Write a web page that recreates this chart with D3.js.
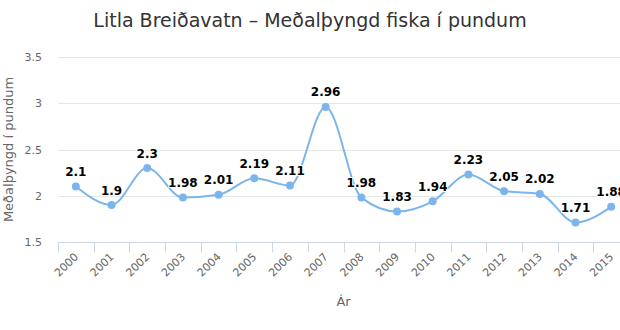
<!DOCTYPE html>
<html>
<head>
<meta charset="utf-8">
<script src="https://cdn.jsdelivr.net/npm/d3@7"></script>
<style>
  html, body { margin: 0; padding: 0; background: #fff; }
  svg { display: block; font-family: "DejaVu Sans", Verdana, sans-serif; }
</style>
</head>
<body>
<svg id="chart" width="620" height="330"></svg>
<script>
// Mean weight of fish per year, in pounds
const years = ["2000","2001","2002","2003","2004","2005","2006","2007","2008","2009","2010","2011","2012","2013","2014","2015"];
const weights = [2.1, 1.9, 2.3, 1.98, 2.01, 2.19, 2.11, 2.96, 1.98, 1.83, 1.94, 2.23, 2.05, 2.02, 1.71, 1.88];
const yTicks = [1.5, 2, 2.5, 3, 3.5];

const titleText = "Litla Breiðavatn – Meðalþyngd fiska í pundum";
const yTitle = "Meðalþyngd í pundum";
const xTitle = "Ár";

const svg = d3.select("#chart");
const plot = { left: 58, right: 629, top: 57, bottom: 242 };

const x = d3.scaleBand().domain(years).range([plot.left, plot.right]);
const y = d3.scaleLinear().domain([1.5, 3.5]).range([plot.bottom, plot.top]);

// Title
svg.append("text")
  .attr("x", 310).attr("y", 27)
  .attr("text-anchor", "middle")
  .attr("fill", "#333333")
  .style("font-size", "19px")
  .text(titleText);

// Horizontal gridlines
svg.append("g").selectAll("line")
  .data(yTicks.filter(d => d > 1.5))
  .join("line")
  .attr("x1", plot.left).attr("x2", plot.right)
  .attr("y1", d => Math.round(y(d)) + 0.5).attr("y2", d => Math.round(y(d)) + 0.5)
  .attr("stroke", "#e6e6e6");

// Y axis labels
const yAxis = d3.axisLeft(y).tickValues(yTicks).tickSize(0).tickPadding(16)
  .tickFormat(d3.format("~g"));
const gy = svg.append("g").attr("transform", `translate(${plot.left},0)`).call(yAxis);
gy.select(".domain").remove();
gy.selectAll("text").attr("fill", "#666666").style("font-size", "11px")
  .style("font-family", "DejaVu Sans, sans-serif");

// X axis with ticks at category boundaries
const gx = svg.append("g").attr("transform", `translate(0,${plot.bottom + 0.5})`);
gx.append("line")
  .attr("x1", plot.left).attr("x2", plot.right)
  .attr("stroke", "#ccd6eb");
gx.selectAll("line.tick")
  .data(years)
  .join("line")
  .attr("class", "tick")
  .attr("x1", d => Math.round(x(d)) + 0.5).attr("x2", d => Math.round(x(d)) + 0.5)
  .attr("y1", 0).attr("y2", 10)
  .attr("stroke", "#ccd6eb");
gx.selectAll("text")
  .data(years)
  .join("text")
  .attr("transform", d => `translate(${x(d) + x.bandwidth() / 2 + 3},${15}) rotate(-45)`)
  .attr("text-anchor", "end")
  .attr("fill", "#666666")
  .style("font-size", "11px")
  .text(d => d);

// Axis titles
svg.append("text")
  .attr("transform", `translate(13,${(plot.top + plot.bottom) / 2}) rotate(-90)`)
  .attr("text-anchor", "middle")
  .attr("fill", "#666666")
  .style("font-size", "13px")
  .text(yTitle);
svg.append("text")
  .attr("x", (plot.left + plot.right) / 2).attr("y", 306)
  .attr("text-anchor", "middle")
  .attr("fill", "#666666")
  .style("font-size", "13px")
  .text(xTitle);

// Series line
const cx = d => x(d) + x.bandwidth() / 2;
const pts = years.map((d, i) => [cx(d), y(weights[i])]);
svg.append("path")
  .datum(pts)
  .attr("fill", "none")
  .attr("stroke", "#7cb5ec")
  .attr("stroke-width", 2)
  .attr("d", d3.line().curve(d3.curveMonotoneX));

// Markers
svg.append("g").selectAll("circle")
  .data(pts)
  .join("circle")
  .attr("cx", d => d[0]).attr("cy", d => d[1])
  .attr("r", 4)
  .attr("fill", "#7cb5ec");

// Data labels
svg.append("g").selectAll("text")
  .data(years.map((d, i) => ({ x: cx(d), y: y(weights[i]), v: weights[i] })))
  .join("text")
  .attr("x", d => d.x).attr("y", d => d.y - 10.5)
  .attr("text-anchor", "middle")
  .attr("fill", "#000000")
  .attr("stroke", "#ffffff")
  .attr("stroke-width", 2)
  .attr("paint-order", "stroke")
  .style("font-size", "12px")
  .style("font-weight", "bold")
  .text(d => d.v);
</script>
</body>
</html>
